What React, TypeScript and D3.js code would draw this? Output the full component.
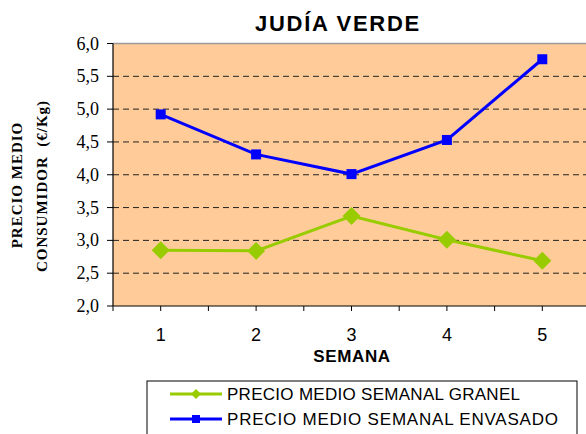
import React from "react";
import * as d3 from "d3";

const weeks = ["1", "2", "3", "4", "5"];
const granel = [2.85, 2.84, 3.37, 3.01, 2.69];
const envasado = [4.92, 4.31, 4.01, 4.53, 5.76];
const yTicks = [2.0, 2.5, 3.0, 3.5, 4.0, 4.5, 5.0, 5.5, 6.0];
const seriesNames = ["PRECIO MEDIO SEMANAL GRANEL", "PRECIO MEDIO SEMANAL ENVASADO"];
const title = "JUDÍA VERDE";
const xTitle = "SEMANA";
const yTitle = ["PRECIO MEDIO", "CONSUMIDOR  (€/Kg)"];

const W = 586, H = 434;
const plot = { left: 113, top: 43.5, right: 590, bottom: 306 };
const GREEN = "#99CC00";
const BLUE = "#0000FF";

export default function App() {
  const x = d3.scaleBand().domain(weeks).range([plot.left, plot.right]).padding(0);
  const y = d3.scaleLinear().domain([2, 6]).range([plot.bottom, plot.top]);
  const cx = (w: string) => (x(w) as number) + x.bandwidth() / 2;
  const line = d3.line<number>().x((_, i) => cx(weeks[i])).y((d) => y(d));
  const xTickPos: number[] = [];
  weeks.forEach((w) => {
    xTickPos.push(x(w) as number);
    xTickPos.push(cx(w));
  });
  xTickPos.push(plot.right);
  const diamond = (px: number, py: number, r: number) =>
    `M${px},${py - r}L${px + r},${py}L${px},${py + r}L${px - r},${py}Z`;
  const sans = "'Liberation Sans', Arial, sans-serif";
  const serif = "'Liberation Serif', 'Times New Roman', serif";

  return (
    <svg width={W} height={H} style={{ position: "absolute", left: 0, top: 0, background: "#fff" }}>
      <text x={338} y={31} textAnchor="middle" fontFamily={sans} fontWeight="bold" fontSize={22} letterSpacing={1.7}>
        {title}
      </text>
      <rect x={plot.left} y={plot.top} width={plot.right - plot.left} height={plot.bottom - plot.top} fill="#FFCC99" />
      <line x1={plot.left} x2={plot.right} y1={plot.top} y2={plot.top} stroke="#999" strokeWidth={1.5} />
      {yTicks.filter((t) => t > 2 && t < 6).map((t) => (
        <line key={t} x1={plot.left} x2={plot.right} y1={y(t)} y2={y(t)} stroke="#222" strokeWidth={1} strokeDasharray="6,4" />
      ))}
      <line x1={plot.left} x2={plot.left} y1={plot.top} y2={plot.bottom} stroke="#000" strokeWidth={1.2} />
      <line x1={plot.left} x2={plot.right} y1={plot.bottom} y2={plot.bottom} stroke="#000" strokeWidth={1.2} />
      {yTicks.map((t) => (
        <g key={t}>
          <line x1={plot.left - 6} x2={plot.left} y1={y(t)} y2={y(t)} stroke="#000" />
          <text x={99} y={y(t) + 6} textAnchor="end" fontFamily={serif} fontSize={18}>
            {t.toFixed(1).replace(".", ",")}
          </text>
        </g>
      ))}
      {xTickPos.map((p, i) => (
        <line key={i} x1={p} x2={p} y1={plot.bottom} y2={plot.bottom + 5} stroke="#000" />
      ))}
      {weeks.map((w) => (
        <text key={w} x={cx(w)} y={341} textAnchor="middle" fontFamily={sans} fontSize={18}>
          {w}
        </text>
      ))}
      <text x={352} y={362} textAnchor="middle" fontFamily={sans} fontWeight="bold" fontSize={17} letterSpacing={0.6}>
        {xTitle}
      </text>
      <g transform="translate(22,185) rotate(-90)">
        <text x={0} y={0} textAnchor="middle" fontFamily={serif} fontWeight="bold" fontSize={15} letterSpacing={1}>
          {yTitle[0]}
        </text>
      </g>
      <g transform="translate(47,186) rotate(-90)">
        <text x={0} y={0} textAnchor="middle" fontFamily={serif} fontWeight="bold" fontSize={15} letterSpacing={1} style={{ whiteSpace: "pre" }}>
          {yTitle[1]}
        </text>
      </g>
      <path d={line(envasado) || ""} fill="none" stroke={BLUE} strokeWidth={3} />
      <path d={line(granel) || ""} fill="none" stroke={GREEN} strokeWidth={3} />
      {envasado.map((v, i) => (
        <rect key={i} x={cx(weeks[i]) - 5} y={y(v) - 5} width={10} height={10} fill={BLUE} />
      ))}
      {granel.map((v, i) => (
        <path key={i} d={diamond(cx(weeks[i]), y(v), 9)} fill={GREEN} />
      ))}
      <rect x={147} y={381} width={430} height={60} fill="#fff" stroke="#000" strokeWidth={1} />
      <line x1={170} x2={222} y1={394} y2={394} stroke={GREEN} strokeWidth={3} />
      <path d={diamond(196, 394, 5)} fill={GREEN} />
      <text x={227} y={400} fontFamily={sans} fontSize={17} textLength={293} lengthAdjust="spacing">
        {seriesNames[0]}
      </text>
      <line x1={170} x2={222} y1={419} y2={419} stroke={BLUE} strokeWidth={3} />
      <rect x={192} y={415} width={8} height={8} fill={BLUE} />
      <text x={227} y={425} fontFamily={sans} fontSize={17} textLength={331} lengthAdjust="spacing">
        {seriesNames[1]}
      </text>
    </svg>
  );
}
